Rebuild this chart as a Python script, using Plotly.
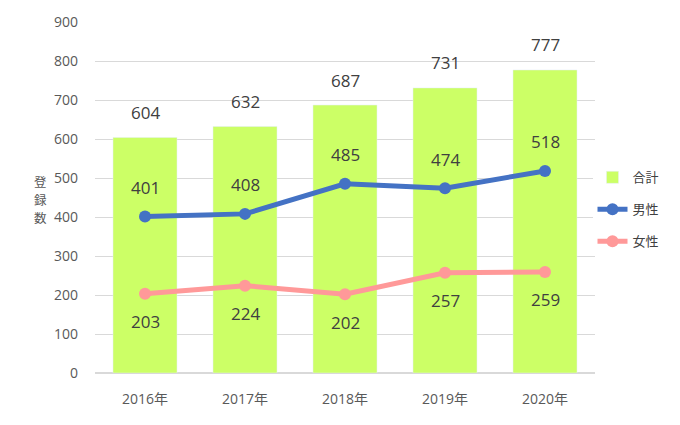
import plotly.graph_objects as go

years = ["2016年", "2017年", "2018年", "2019年", "2020年"]
total = [604, 632, 687, 731, 777]
male = [401, 408, 485, 474, 518]
female = [203, 224, 202, 257, 259]

FONT = "Open Sans, Noto Sans CJK JP"
JP = "Noto Sans CJK JP"

fig = go.Figure()
fig.add_trace(go.Bar(x=years, y=total, name="合計", marker_color="#CCFF66",
                     width=0.64, legendgroup="a"))
fig.add_trace(go.Scatter(x=years, y=male, name="男性", mode="lines+markers",
                         line=dict(color="#4472C4", width=5),
                         marker=dict(size=12, color="#4472C4"), legendgroup="b"))
fig.add_trace(go.Scatter(x=years, y=female, name="女性", mode="lines+markers",
                         line=dict(color="#FF9999", width=5),
                         marker=dict(size=12, color="#FF9999"), legendgroup="c"))

ann = []
lab_font = dict(family=FONT, size=17, color="#404040")
for x, v in zip(years, total):
    ann.append(dict(x=x, y=v, text=str(v), showarrow=False, yshift=25, font=lab_font))
for x, v in zip(years, male):
    ann.append(dict(x=x, y=v, text=str(v), showarrow=False, yshift=29, font=lab_font))
for x, v in zip(years, female):
    ann.append(dict(x=x, y=v, text=str(v), showarrow=False, yshift=-28, font=lab_font))
for i, ch in enumerate("登録数"):
    py = 179 + i * 18.5
    ann.append(dict(xref="paper", yref="paper", x=-0.126, y=(373 - py) / 355, text=ch,
                    showarrow=False, font=dict(family=JP, size=12.5, color="#595959")))

fig.update_layout(
    width=680, height=425,
    margin=dict(l=95, r=85, t=18, b=52),
    plot_bgcolor="white", paper_bgcolor="white",
    font=dict(family=FONT, size=14, color="#595959"),
    bargap=0.36,
    annotations=ann,
    showlegend=True,
    legend=dict(x=0.995, y=0.6, xanchor="left", yanchor="top",
                font=dict(family=FONT, size=13, color="#404040"),
                traceorder="grouped", tracegroupgap=12, itemwidth=30),
    xaxis=dict(showgrid=False, showline=True, linecolor="#d9d9d9", linewidth=1,
               ticks="", ticklabelstandoff=13,
               tickfont=dict(family=FONT, size=14, color="#595959")),
    yaxis=dict(range=[0, 900], dtick=100, showgrid=True, gridcolor="#d9d9d9",
               zeroline=True, zerolinecolor="#d9d9d9", showline=False,
               ticks="", ticklabelstandoff=16,
               tickfont=dict(family=FONT, size=14, color="#595959")),
)

fig.write_html("out.html")
